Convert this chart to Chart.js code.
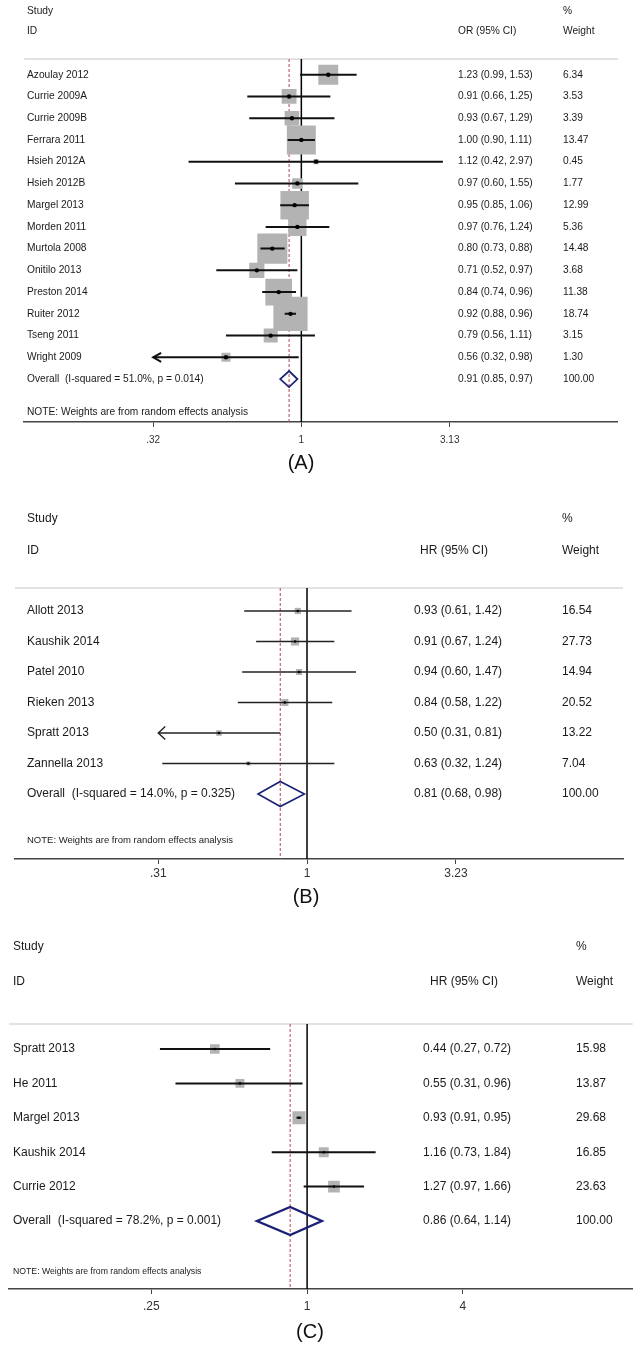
<!DOCTYPE html>
<html>
<head>
<meta charset="utf-8">
<title>Forest plots</title>
<script src="https://cdn.jsdelivr.net/npm/chart.js"></script>
<style>
  body { margin: 0; background: #fff; }
  canvas { position: absolute; left: 0; }
</style>
</head>
<body>
<canvas id="plotA" width="642" height="480" style="top:0px"></canvas>
<canvas id="plotB" width="642" height="440" style="top:480px"></canvas>
<canvas id="plotC" width="642" height="430" style="top:920px"></canvas>

<script>
// ---- (A) odds ratios ----
const studiesA = ['Azoulay 2012', 'Currie 2009A', 'Currie 2009B', 'Ferrara 2011', 'Hsieh 2012A', 'Hsieh 2012B',
  'Margel 2013', 'Morden 2011', 'Murtola 2008', 'Onitilo 2013', 'Preston 2014', 'Ruiter 2012', 'Tseng 2011', 'Wright 2009'];
const estA = [1.23, 0.91, 0.93, 1.00, 1.12, 0.97, 0.95, 0.97, 0.80, 0.71, 0.84, 0.92, 0.79, 0.56];
const lowA = [0.99, 0.66, 0.67, 0.90, 0.42, 0.60, 0.85, 0.76, 0.73, 0.52, 0.74, 0.88, 0.56, 0.32];
const highA = [1.53, 1.25, 1.29, 1.11, 2.97, 1.55, 1.06, 1.24, 0.88, 0.97, 0.96, 0.96, 1.11, 0.98];
const weightA = [6.34, 3.53, 3.39, 13.47, 0.45, 1.77, 12.99, 5.36, 14.48, 3.68, 11.38, 18.74, 3.15, 1.30];
const pooledA = [0.91, 0.85, 0.97];
const overallA = 'Overall  (I-squared = 51.0%, p = 0.014)';
const ticksA = [0.32, 1, 3.13];
const tickLabelsA = ['.32', '1', '3.13'];

// ---- (B) hazard ratios ----
const studiesB = ['Allott 2013', 'Kaushik 2014', 'Patel 2010', 'Rieken 2013', 'Spratt 2013', 'Zannella 2013'];
const estB = [0.93, 0.91, 0.94, 0.84, 0.50, 0.63];
const lowB = [0.61, 0.67, 0.60, 0.58, 0.31, 0.32];
const highB = [1.42, 1.24, 1.47, 1.22, 0.81, 1.24];
const weightB = [16.54, 27.73, 14.94, 20.52, 13.22, 7.04];
const pooledB = [0.81, 0.68, 0.98];
const overallB = 'Overall  (I-squared = 14.0%, p = 0.325)';
const ticksB = [0.31, 1, 3.23];
const tickLabelsB = ['.31', '1', '3.23'];

// ---- (C) hazard ratios ----
const studiesC = ['Spratt 2013', 'He 2011', 'Margel 2013', 'Kaushik 2014', 'Currie 2012'];
const estC = [0.44, 0.55, 0.93, 1.16, 1.27];
const lowC = [0.27, 0.31, 0.91, 0.73, 0.97];
const highC = [0.72, 0.96, 0.95, 1.84, 1.66];
const weightC = [15.98, 13.87, 29.68, 16.85, 23.63];
const pooledC = [0.86, 0.64, 1.14];
const overallC = 'Overall  (I-squared = 78.2%, p = 0.001)';
const ticksC = [0.25, 1, 4];
const tickLabelsC = ['.25', '1', '4'];

const NOTE = 'NOTE: Weights are from random effects analysis';
const FAMILY = '"Liberation Sans", Arial, sans-serif';
const font = s => s + 'px ' + FAMILY;
const f2 = v => v.toFixed(2);

function forest(id, d, L) {
  const canvas = document.getElementById(id);
  const H = canvas.height, W = canvas.width;
  const n = d.studies.length;
  const clip = d.ticks[0];
  const axisH = 30;

  const datasets = [];
  // weight boxes
  datasets.push({
    type: 'scatter', order: 3,
    data: d.est.map((v, i) => ({ x: v, y: i })),
    pointStyle: 'rect',
    pointRadius: d.weight.map(w => L.boxK * Math.sqrt(w) / Math.SQRT2),
    backgroundColor: '#b3b3b3', borderWidth: 0
  });
  // confidence intervals
  d.est.forEach((v, i) => {
    datasets.push({
      type: 'line', order: 2,
      data: [{ x: Math.max(d.low[i], clip), y: i }, { x: d.high[i], y: i }],
      borderColor: L.ciColor, borderWidth: L.ciW, pointRadius: 0
    });
  });
  // point estimates
  datasets.push({
    type: 'scatter', order: 1,
    data: d.est.map((v, i) => ({ x: v, y: i })),
    pointStyle: 'circle', pointRadius: L.dot,
    backgroundColor: '#000', borderWidth: 0
  });

  const plugin = {
    id: 'forest_' + id,
    beforeDatasetsDraw(chart) {
      const { ctx, chartArea: a, scales: { x } } = chart;
      ctx.save();
      ctx.strokeStyle = '#d9d9d9';
      ctx.lineWidth = 1.5;
      ctx.beginPath(); ctx.moveTo(a.left, a.top); ctx.lineTo(a.right, a.top); ctx.stroke();
      // dashed pooled estimate
      const xp = x.getPixelForValue(d.pooled[0]);
      ctx.strokeStyle = '#b0485a';
      ctx.lineWidth = 1;
      ctx.setLineDash([3, 2]);
      ctx.beginPath(); ctx.moveTo(xp, a.top); ctx.lineTo(xp, a.bottom); ctx.stroke();
      ctx.setLineDash([]);
      // no-effect line
      const x1 = x.getPixelForValue(1);
      ctx.strokeStyle = '#000';
      ctx.lineWidth = 1.5;
      ctx.beginPath(); ctx.moveTo(x1, a.top); ctx.lineTo(x1, a.bottom); ctx.stroke();
      ctx.restore();
    },
    afterDatasetsDraw(chart) {
      const { ctx, scales: { x, y } } = chart;
      ctx.save();
      // arrows for clipped intervals
      ctx.strokeStyle = L.ciColor;
      ctx.lineWidth = L.ciW;
      d.low.forEach((lo, i) => {
        if (lo > clip) return;
        const xa = x.getPixelForValue(clip), ya = y.getPixelForValue(i);
        ctx.beginPath();
        ctx.moveTo(xa + L.arrowL, ya - L.arrowH);
        ctx.lineTo(xa, ya);
        ctx.lineTo(xa + L.arrowL, ya + L.arrowH);
        ctx.stroke();
      });
      // pooled diamond
      const yd = y.getPixelForValue(n);
      const xl = x.getPixelForValue(d.pooled[1]);
      const xc = x.getPixelForValue(d.pooled[0]);
      const xr = x.getPixelForValue(d.pooled[2]);
      ctx.strokeStyle = '#1c2176';
      ctx.lineWidth = L.diaW;
      ctx.lineJoin = 'miter';
      ctx.beginPath();
      ctx.moveTo(xl, yd);
      ctx.lineTo(xc, yd - L.diaH / 2);
      ctx.lineTo(xr, yd);
      ctx.lineTo(xc, yd + L.diaH / 2);
      ctx.closePath();
      ctx.stroke();
      ctx.restore();
    },
    afterDraw(chart) {
      const { ctx, scales: { y } } = chart;
      ctx.save();
      ctx.fillStyle = '#1a1a1a';
      ctx.textBaseline = 'middle';
      ctx.textAlign = 'left';
      ctx.font = font(L.fs);
      ctx.fillText('Study', L.nameX, L.head1);
      ctx.fillText('ID', L.nameX, L.head2);
      ctx.fillText(d.measure, L.estHeadX, L.head2);
      ctx.fillText('%', L.wtX, L.head1);
      ctx.fillText('Weight', L.wtX, L.head2);
      d.studies.forEach((s, i) => {
        const yy = y.getPixelForValue(i);
        ctx.fillText(s, L.nameX, yy);
        ctx.fillText(f2(d.est[i]) + ' (' + f2(d.low[i]) + ', ' + f2(d.high[i]) + ')', L.estX, yy);
        ctx.fillText(f2(d.weight[i]), L.wtX, yy);
      });
      const yo = y.getPixelForValue(n);
      ctx.fillText(d.overall, L.nameX, yo);
      ctx.fillText(f2(d.pooled[0]) + ' (' + f2(d.pooled[1]) + ', ' + f2(d.pooled[2]) + ')', L.estX, yo);
      ctx.fillText('100.00', L.wtX, yo);
      ctx.font = font(L.noteFs);
      ctx.fillText(NOTE, L.nameX, L.noteY);
      ctx.font = font(20);
      ctx.textAlign = 'center';
      ctx.fillStyle = '#111';
      ctx.fillText(d.title, L.titleX, L.titleY);
      ctx.restore();
    }
  };

  new Chart(canvas, {
    type: 'scatter',
    data: { datasets },
    options: {
      responsive: false,
      animation: false,
      layout: { padding: { top: L.top, left: L.left, right: W - L.right, bottom: H - L.bottom - axisH } },
      plugins: { legend: { display: false }, tooltip: { enabled: false } },
      scales: {
        x: {
          type: 'logarithmic',
          bounds: 'data',
          min: Math.exp(-(L.one - L.left) / L.perLn),
          max: Math.exp((L.right - L.one) / L.perLn),
          afterBuildTicks: s => { s.ticks = d.ticks.map(v => ({ value: v })); },
          afterFit: s => { s.height = axisH; },
          border: { display: true, color: '#444', width: 1.5 },
          grid: { drawOnChartArea: false, drawTicks: true, tickLength: 5, color: '#444' },
          ticks: {
            autoSkip: false, maxRotation: 0, padding: L.tickPad,
            color: '#333', font: { family: FAMILY, size: L.tickFs },
            callback: v => d.tickLabels[d.ticks.indexOf(v)]
          }
        },
        y: {
          type: 'linear', display: false, reverse: true,
          min: (L.top - L.row0) / L.step,
          max: (L.bottom - L.row0) / L.step
        }
      }
    },
    plugins: [plugin]
  });
}

forest('plotA',
  { studies: studiesA, est: estA, low: lowA, high: highA, weight: weightA, pooled: pooledA,
    overall: overallA, ticks: ticksA, tickLabels: tickLabelsA, measure: 'OR (95% CI)', title: '(A)' },
  { top: 59, bottom: 422, left: 18, right: 622, one: 300, perLn: 132.3, row0: 74.7, step: 21.74,
    fs: 10.2, noteFs: 10.2, tickFs: 10, tickPad: 7, nameX: 27, estX: 458, estHeadX: 458, wtX: 563,
    head1: 11, head2: 31, noteY: 412, titleX: 301, titleY: 463,
    boxK: 7.9, dot: 2.2, ciW: 2, ciColor: '#111', arrowL: 8, arrowH: 4.5, diaW: 1.8, diaH: 16 });

forest('plotB',
  { studies: studiesB, est: estB, low: lowB, high: highB, weight: weightB, pooled: pooledB,
    overall: overallB, ticks: ticksB, tickLabels: tickLabelsB, measure: 'HR (95% CI)', title: '(B)' },
  { top: 108, bottom: 379, left: 15, right: 623, one: 307, perLn: 127, row0: 131, step: 30.5,
    fs: 12, noteFs: 9.5, tickFs: 12, tickPad: 2, nameX: 27, estX: 414, estHeadX: 420, wtX: 562,
    head1: 39, head2: 71, noteY: 360, titleX: 306, titleY: 417,
    boxK: 1.55, dot: 1.3, ciW: 1.4, ciColor: '#222', arrowL: 7, arrowH: 6.5, diaW: 1.6, diaH: 25 });

forest('plotC',
  { studies: studiesC, est: estC, low: lowC, high: highC, weight: weightC, pooled: pooledC,
    overall: overallC, ticks: ticksC, tickLabels: tickLabelsC, measure: 'HR (95% CI)', title: '(C)' },
  { top: 104, bottom: 369, left: 7, right: 635, one: 307, perLn: 113.2, row0: 129, step: 34.4,
    fs: 12, noteFs: 8.7, tickFs: 12, tickPad: 5, nameX: 13, estX: 423, estHeadX: 430, wtX: 576,
    head1: 27, head2: 62, noteY: 352, titleX: 310, titleY: 412,
    boxK: 2.4, dot: 1.3, ciW: 2, ciColor: '#111', arrowL: 7, arrowH: 6, diaW: 2.4, diaH: 28 });
</script>
</body>
</html>
